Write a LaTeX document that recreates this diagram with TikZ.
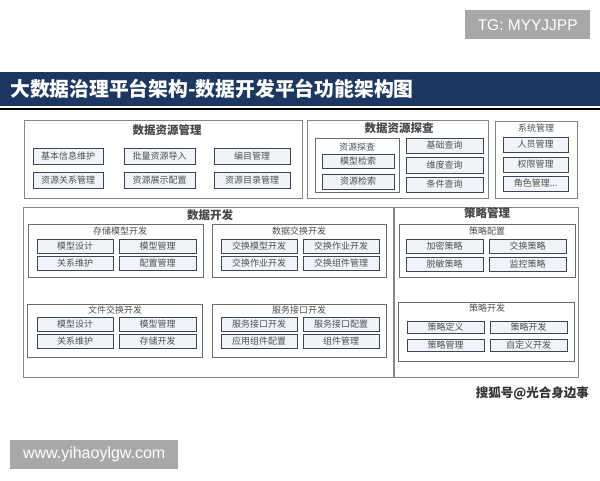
\documentclass[tikz,border=0pt]{standalone}
\usepackage{fontspec}
\setmainfont{Noto Sans CJK SC}
\newfontfamily\wmfont{Liberation Sans}
\usetikzlibrary{positioning}
\definecolor{barblue}{HTML}{1C3761}
\definecolor{panelline}{HTML}{858585}
\definecolor{itemline}{HTML}{3E4552}
\definecolor{itemfill}{HTML}{F0F3F7}
\definecolor{textgray}{HTML}{4F4F4F}
\definecolor{wmgray}{HTML}{A8A8A8}

\begin{document}
\begin{tikzpicture}[x=1pt,y=-1pt,
    panel/.style={draw=panelline,line width=0.9pt,fill=white,anchor=north west,inner sep=0pt},
    group/.style={draw=itemline!80,line width=0.8pt,anchor=north west,inner sep=0pt},
    item/.style={draw=itemline,fill=itemfill,line width=0.9pt,inner sep=0pt,
      minimum height=15pt,text=textgray,font=\fontsize{9}{10}\selectfont},
    head/.style={text=textgray!90!black,font=\bfseries\fontsize{11.5}{12}\selectfont,inner sep=0pt},
    sub/.style={text=textgray,font=\fontsize{9}{10}\selectfont,inner sep=0pt},
    tag/.style={fill=wmgray,text=white,inner sep=0pt,anchor=north west}]

  \useasboundingbox[fill=white] (0,0) rectangle (600,480);

  % title bar
  \node[fill=barblue,minimum width=600pt,minimum height=34pt,anchor=north west,inner sep=0pt] (bar) at (0,72) {};
  \node[text=white,font=\bfseries\fontsize{19.8}{22}\selectfont,anchor=west,inner sep=0pt] (title) at (10,89) {大数据治理平台架构-数据开发平台功能架构图};
  \draw[line width=2pt] (bar.south west) ++(0,-2.5pt) coordinate (ruleL) -- (ruleL -| bar.east);

  % top row
  \node[panel,minimum width=278pt,minimum height=78pt] (resmgr) at (24,120) {};
  \node[head] (resmgrT) at (167,130) {数据资源管理};
  \node[item,minimum width=70pt,minimum height=16pt] (info) at (68,156) {基本信息维护};
  \node[item,minimum width=70pt,minimum height=16pt] (rel) at (68,180.5) {资源关系管理};
  \node[item,minimum width=71pt,minimum height=16pt] (batch) at (159.5,156) {批量资源导入};
  \node[item,minimum width=71pt,minimum height=16pt] (show) at (159.5,180.5) {资源展示配置};
  \node[item,minimum width=76pt,minimum height=16pt] (catalog) at (252,156) {编目管理};
  \node[item,minimum width=76pt,minimum height=16pt] (dirmgr) at (252,180.5) {资源目录管理};

  \node[panel,minimum width=181pt,minimum height=78pt] (explore) at (307,120) {};
  \node[head] (exploreT) at (399,128) {数据资源探查};
  \node[group,minimum width=84pt,minimum height=54pt] (probe) at (315,138) {};
  \node[sub] (probeT) at (357,147) {资源探查};
  \node[item,minimum width=72pt,minimum height=14pt] (modsearch) at (358,161) {模型检索};
  \node[item,minimum width=72pt] (ressearch) at (358,181.5) {资源检索};
  \node[item,minimum width=77pt] (basicq) at (444.5,145.5) {基础查询};
  \node[item,minimum width=77pt,minimum height=16pt] (dimq) at (444.5,165) {维度查询};
  \node[item,minimum width=77pt] (condq) at (444.5,184.5) {条件查询};

  \node[panel,minimum width=82pt,minimum height=77pt] (sysmgr) at (495,121) {};
  \node[sub] (sysmgrT) at (536,128) {系统管理};
  \node[item,minimum width=65pt] (staff) at (535.5,144.5) {人员管理};
  \node[item,minimum width=65pt] (perm) at (535.5,164.5) {权限管理};
  \node[item,minimum width=65pt] (role) at (535.5,183.5) {角色管理...};

  % data development
  \node[panel,minimum width=370pt,minimum height=170pt] (dev) at (23,207) {};
  \node[head] (devT) at (210,215) {数据开发};

  \node[group,minimum width=175pt,minimum height=53pt] (store) at (28,224) {};
  \node[sub] (storeT) at (120,231) {存储模型开发};
  \node[item,minimum width=76pt,minimum height=14pt] (sdesign) at (75,246) {模型设计};
  \node[item,minimum width=77pt,minimum height=14pt] (smgr) at (157.5,246) {模型管理};
  \node[item,minimum width=76pt,minimum height=14pt] (skeep) at (75,263.5) {关系维护};
  \node[item,minimum width=77pt,minimum height=14pt] (sconf) at (157.5,263.5) {配置管理};

  \node[group,minimum width=174pt,minimum height=53pt] (xchg) at (212,224) {};
  \node[sub] (xchgT) at (299,231) {数据交换开发};
  \node[item,minimum width=76pt,minimum height=14pt] (xmodel) at (259,246) {交换模型开发};
  \node[item,minimum width=76pt,minimum height=14pt] (xjob) at (341,246) {交换作业开发};
  \node[item,minimum width=76pt,minimum height=14pt] (xjob2) at (259,263.5) {交换作业开发};
  \node[item,minimum width=76pt,minimum height=14pt] (xcomp) at (341,263.5) {交换组件管理};

  \node[group,minimum width=175pt,minimum height=53pt] (file) at (27,304) {};
  \node[sub] (fileT) at (115,310) {文件交换开发};
  \node[item,minimum width=76pt,minimum height=14pt] (fdesign) at (75,324) {模型设计};
  \node[item,minimum width=77pt,minimum height=14pt] (fmgr) at (157.5,324) {模型管理};
  \node[item,minimum width=76pt,minimum height=14pt] (fkeep) at (75,341) {关系维护};
  \node[item,minimum width=77pt,minimum height=14pt] (fstore) at (157.5,341) {存储开发};

  \node[group,minimum width=174pt,minimum height=53pt] (api) at (212,304) {};
  \node[sub] (apiT) at (299,310) {服务接口开发};
  \node[item,minimum width=76pt,minimum height=14pt] (apidev) at (259,324) {服务接口开发};
  \node[item,minimum width=76pt,minimum height=14pt] (apiconf) at (341,324) {服务接口配置};
  \node[item,minimum width=76pt,minimum height=14pt] (appconf) at (259,341) {应用组件配置};
  \node[item,minimum width=76pt,minimum height=14pt] (compmgr) at (341,341) {组件管理};

  % policy management
  \node[panel,minimum width=184pt,minimum height=170pt] (policy) at (394,207) {};
  \node[head] (policyT) at (487,213) {策略管理};

  \node[group,minimum width=176pt,minimum height=53pt] (pconf) at (399,224) {};
  \node[sub] (pconfT) at (487,231) {策略配置};
  \node[item,minimum width=77pt,minimum height=14pt] (encrypt) at (444.5,246) {加密策略};
  \node[item,minimum width=77pt,minimum height=14pt] (xpolicy) at (527.5,246) {交换策略};
  \node[item,minimum width=77pt,minimum height=14pt] (mask) at (444.5,264) {脱敏策略};
  \node[item,minimum width=77pt,minimum height=14pt] (monitor) at (527.5,264) {监控策略};

  \node[group,minimum width=176pt,minimum height=59pt] (pdev) at (398,302) {};
  \node[sub] (pdevT) at (487,308) {策略开发};
  \node[item,minimum width=77pt,minimum height=12pt] (pdef) at (445.5,327) {策略定义};
  \node[item,minimum width=77pt,minimum height=12pt] (pdevi) at (528.5,327) {策略开发};
  \node[item,minimum width=77pt,minimum height=12pt] (pmgr) at (445.5,345) {策略管理};
  \node[item,minimum width=77pt,minimum height=12pt] (pcustom) at (528.5,345) {自定义开发};

  % watermarks
  \node[text=black!80,font=\bfseries\fontsize{12.5}{13}\selectfont,anchor=east,inner sep=0pt] (sohu) at (589,393) {搜狐号@光合身边事};
  \node[tag,minimum width=125pt,minimum height=29pt] (tg) at (465,10) {\wmfont\fontsize{15.5}{16}\selectfont TG: MYYJJPP};
  \node[tag,minimum width=168pt,minimum height=29pt] (www) at (10,440) {\wmfont\fontsize{16}{17}\selectfont www.yihaoylgw.com};
\end{tikzpicture}
\end{document}
